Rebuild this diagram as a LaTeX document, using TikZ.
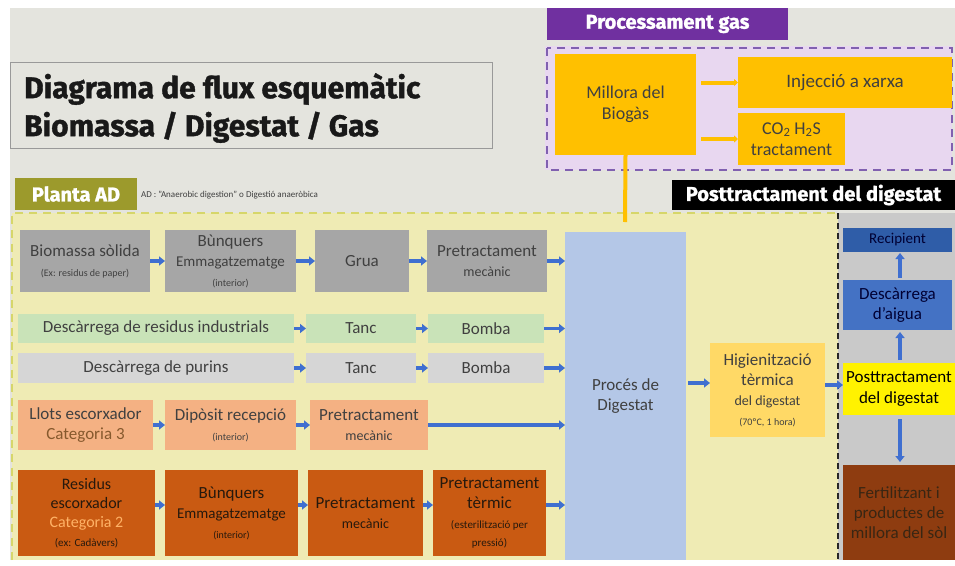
\documentclass[tikz,border=0pt]{standalone}
\usepackage{fontspec}
\setmainfont{Carlito}
\newfontfamily\hfont{Fira Sans}[BoldFeatures={FakeBold=1.2}]
\usetikzlibrary{arrows.meta,calc}
\definecolor{bggray}{HTML}{E4E4DE}
\definecolor{plantafill}{HTML}{EFEBB4}
\definecolor{plantadash}{HTML}{D6D66A}
\definecolor{olive}{HTML}{9C9A2C}
\definecolor{purp}{HTML}{7030A0}
\definecolor{lav}{HTML}{E8D7F0}
\definecolor{purpdash}{HTML}{8060B0}
\definecolor{gold}{HTML}{FFC000}
\definecolor{postgray}{HTML}{C9C9C9}
\definecolor{grayA}{HTML}{A6A6A6}
\definecolor{greenA}{HTML}{C9E3B8}
\definecolor{grayB}{HTML}{D6D6D6}
\definecolor{peach}{HTML}{F4B183}
\definecolor{rust}{HTML}{C95A12}
\definecolor{procblue}{HTML}{B4C7E7}
\definecolor{higor}{HTML}{FFD966}
\definecolor{darkblue}{HTML}{2F5DA8}
\definecolor{midblue}{HTML}{4472C4}
\definecolor{brownA}{HTML}{8E3C10}
\definecolor{arrblue}{HTML}{3F6FD0}
\definecolor{txt}{HTML}{404040}
\newcommand\myfs[1]{\fontsize{#1}{\fpeval{#1*1.18}}\selectfont}
\newcommand\rbox[7]{\node[box,#6,anchor=north west,minimum width={#4-#2},minimum height={#5-#3}] (#1) at (#2,#3) {#7};}
\begin{document}
\begin{tikzpicture}[x=1pt,y=-1pt,
  box/.style={inner sep=1pt,outer sep=0pt,align=center,text=txt,font=\myfs{17}},
  barrow/.style={draw=arrblue,line width=3.5pt,-{Triangle[length=6pt,width=9pt]}},
  oarrow/.style={draw=gold,line width=4pt},
  hdr/.style={inner sep=0pt,outer sep=0pt,text=white,font=\hfont\bfseries\myfs{20}}]
\useasboundingbox (0,0) rectangle (955,565);
% backgrounds
\fill[bggray] (10,8) rectangle (955,560);
\fill[plantafill] (12,213) rectangle (838,560);
\draw[plantadash,line width=2.5pt,dash pattern=on 8pt off 6pt] (12,560) -- (12,213) -- (838,213);
\fill[postgray] (838,213) rectangle (955,560);
\draw[black!85,line width=2.5pt,dash pattern=on 6pt off 4pt] (838,213) -- (838,560);
\fill[lav] (545,46) rectangle (952,170);
\draw[purpdash,line width=2pt,dash pattern=on 8pt off 6pt] (547,48) rectangle (952,170);
% title
\node[draw=gray!80,line width=1pt,anchor=north west,minimum width=482,minimum height=86,inner sep=0pt] (title) at (10,62) {};
\node[anchor=west,align=left,inner sep=0pt,font=\hfont\bfseries\fontsize{30}{38}\selectfont,text=black!90] (titletxt) at (24,108) {Diagrama de flux esquemàtic\\Biomassa / Digestat / Gas};
% labels
\rbox{lplanta}{15}{178}{137}{210}{hdr,fill=olive}{Planta AD}
\node[anchor=west,inner sep=0pt,font=\myfs{9},text=txt] (adnote) at (141,195) {AD : "Anaerobic digestion" o Digestió anaeròbica};
\rbox{lgas}{547}{8}{788}{40}{hdr,fill=purp}{Processament gas}
\rbox{lpost}{672}{180}{955}{210}{hdr,fill=black}{Posttractament del digestat}
% gas
\rbox{millora}{555}{54}{696}{155}{fill=gold,text=black!75,font=\myfs{18}}{Millora del\\Biogàs}
\rbox{injeccio}{738}{57}{952}{108}{fill=gold,text=black!75,font=\myfs{19}}{Injecció a xarxa}
\rbox{co2}{738}{113}{845}{165}{fill=gold,text=black!75,font=\myfs{18}}{CO\textsubscript{2} H\textsubscript{2}S\\tractament}
\draw[gold,line width=4pt,-{Triangle[length=4pt,width=7pt]}] (millora.east |- injeccio.west) ++(5,0) coordinate (ga) -- (ga -| injeccio.west) coordinate (gb);
\draw[gold,line width=4pt,-{Triangle[length=4pt,width=7pt]}] (millora.east |- co2.west) ++(5,0) coordinate (gc) -- (gc -| co2.west) coordinate (gd);
% row 1
\rbox{bio}{20}{230}{150}{292}{fill=grayA}{Biomassa sòlida\\{\myfs{10}(Ex: residus de paper)}}
\rbox{bunq}{165}{230}{296}{292}{fill=grayA}{Bùnquers\\{\myfs{15}Emmagatzematge}\\{\myfs{10}(interior)}}
\rbox{grua}{315}{230}{409}{292}{fill=grayA}{Grua}
\rbox{pret}{427}{230}{547}{292}{fill=grayA}{Pretractament\\{\myfs{14}mecànic}}
% row 2
\rbox{desres}{18}{314}{294}{343}{fill=greenA}{Descàrrega de residus industrials}
\rbox{tanc1}{306}{314}{416}{343}{fill=greenA}{Tanc}
\rbox{bomba1}{428}{314}{544}{343}{fill=greenA}{Bomba}
% row 3
\rbox{despur}{18}{353}{294}{383}{fill=grayB}{Descàrrega de purins}
\rbox{tanc2}{306}{353}{416}{383}{fill=grayB}{Tanc}
\rbox{bomba2}{428}{353}{544}{383}{fill=grayB}{Bomba}
% row 4
\rbox{llots}{18}{400}{153}{450}{fill=peach}{Llots escorxador\\{\color{brown!70!black}Categoria 3}}
\rbox{dipos}{165}{400}{296}{450}{fill=peach}{Dipòsit recepció\\{\myfs{10}(interior)}}
\rbox{pret4}{310}{400}{428}{450}{fill=peach}{Pretractament\\{\myfs{14}mecànic}}
% row 5
\rbox{resid}{18}{470}{155}{556}{fill=rust,text=black!80!brown,font=\myfs{16}}{Residus\\escorxador\\{\color{orange!60!white}Categoria 2}\\{\myfs{11}(ex: Cadàvers)}}
\rbox{bunq5}{165}{470}{298}{556}{fill=rust,text=black!80!brown}{Bùnquers\\{\myfs{15}Emmagatzematge}\\{\myfs{10}(interior)}}
\rbox{pret5}{308}{470}{423}{556}{fill=rust,text=black!80!brown}{Pretractament\\{\myfs{14}mecànic}}
\rbox{pret5t}{433}{470}{546}{556}{fill=rust,text=black!80!brown}{Pretractament\\tèrmic\\{\myfs{11}(esterilització per}\\[-2pt]{\myfs{11}pressió)}}
% central
\rbox{proces}{565}{232}{686}{560}{fill=procblue}{Procés de\\Digestat}
\rbox{higien}{710}{343}{825}{437}{fill=higor}{Higienització\\tèrmica\\{\myfs{14}del digestat}\\{\myfs{10}(70ºC, 1 hora)}}
% post
\rbox{recip}{843}{228}{952}{252}{fill=darkblue,text=black!80!blue,font=\myfs{15}}{Recipient}
\rbox{descaig}{843}{280}{952}{330}{fill=midblue,text=black!80!blue}{Descàrrega\\d'aigua}
\rbox{postt}{843}{363}{955}{415}{fill=yellow,text=black}{Posttractament\\del digestat}
\rbox{fert}{843}{465}{955}{560}{fill=brownA,text=black!70!brown}{Fertilitzant i\\productes de\\millora del sòl}
% gas to digestat
\coordinate (gasend) at (625,222);
\draw[oarrow] (millora.south) -- (gasend);
% arrows row 1
\draw[barrow] (bio.east) -- (bunq.west);
\draw[barrow] (bunq.east) -- (grua.west);
\draw[barrow] (grua.east) -- (pret.west);
\draw[barrow] (pret.east) -- (pret.east -| proces.west);
% row 2
\draw[barrow] (desres.east) -- (tanc1.west);
\draw[barrow] (tanc1.east) -- (bomba1.west);
\draw[barrow] (bomba1.east) -- (bomba1.east -| proces.west);
% row 3
\draw[barrow] (despur.east) -- (tanc2.west);
\draw[barrow] (tanc2.east) -- (bomba2.west);
\draw[barrow] (bomba2.east) -- (bomba2.east -| proces.west);
% row 4
\draw[barrow] (llots.east) -- (dipos.west);
\draw[barrow] (dipos.east) -- (pret4.west);
\draw[barrow] (pret4.east) -- (pret4.east -| proces.west);
% row 5
\draw[barrow] ([yshift=8pt]resid.east) -- ([yshift=8pt]bunq5.west);
\draw[barrow] ([yshift=8pt]bunq5.east) -- ([yshift=8pt]pret5.west);
\draw[barrow] ([yshift=8pt]pret5.east) -- ([yshift=8pt]pret5t.west);
\draw[barrow] ([yshift=8pt]pret5t.east) -- ([yshift=8pt]pret5t.east -| proces.west);
% central
\draw[barrow] ([xshift=2pt,yshift=7pt]higien.west -| proces.east) -- ([yshift=7pt]higien.west);
\draw[barrow] ([yshift=5pt]higien.east) -- ([yshift=5pt]higien.east -| postt.west);
\draw[barrow] ([yshift=3pt]postt.north -| 900,0) -- ([yshift=-2pt]descaig.south -| 900,0);
\draw[barrow] ([yshift=2pt]descaig.north -| 900,0) -- ([yshift=-1pt]recip.south -| 900,0);
\draw[barrow] ([yshift=-4pt]postt.south -| 900,0) -- ([yshift=3pt]fert.north -| 900,0);
\end{tikzpicture}
\end{document}
